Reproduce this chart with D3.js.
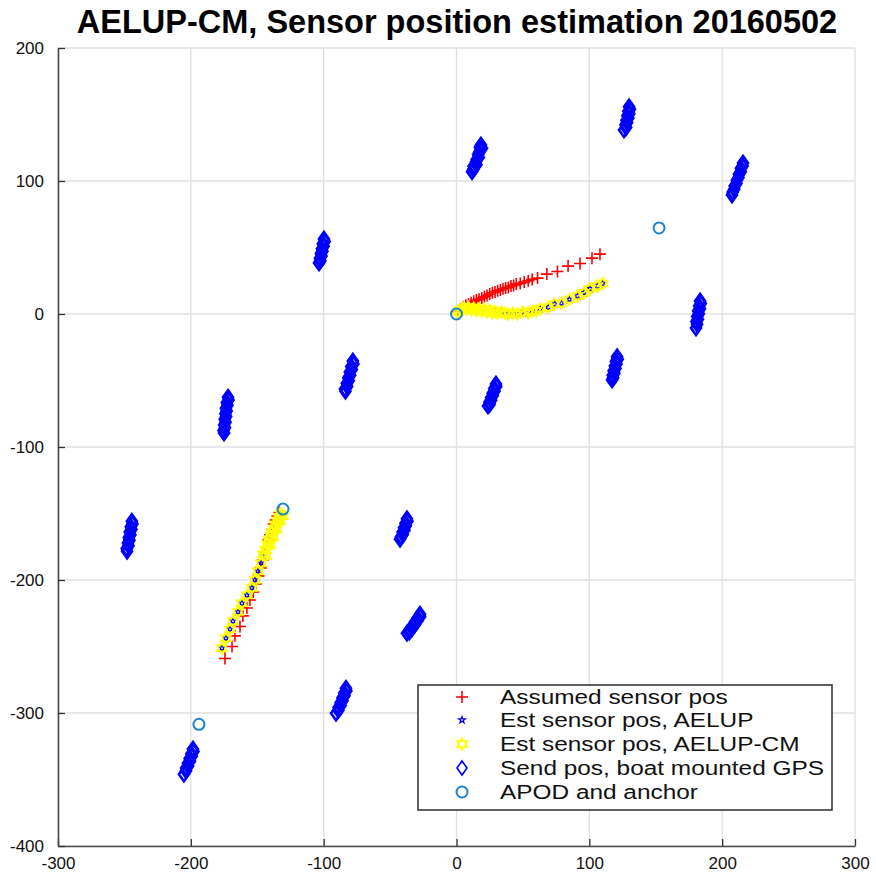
<!DOCTYPE html>
<html><head><meta charset="utf-8">
<script src="https://cdn.jsdelivr.net/npm/d3@7"></script>
<style>body{margin:0;background:#fff} svg{display:block}</style>
</head><body>
<svg id="chart" width="876" height="874"></svg>
<script>
// ---- data ----
const titleText = "AELUP-CM, Sensor position estimation 20160502";
const xTicks = [-300, -200, -100, 0, 100, 200, 300];
const yTicks = [-400, -300, -200, -100, 0, 100, 200];
const legendLabels = [
  "Assumed sensor pos",
  "Est sensor pos, AELUP",
  "Est sensor pos, AELUP-CM",
  "Send pos, boat mounted GPS",
  "APOD and anchor"
];

// Assumed sensor positions (two sensor drops)
const assumedPos = [
  [1,2],[3,4],[5,5.5],[7,6.5],[9,7.5],[11,8.5],[13,9.5],[15,10.5],[17,11],[19,12],[21,13],[23,14],
  [25,15],[27,16],[29,16.5],[31,17.5],[33,18],[35,19],[37,19.5],[39,20],[41,21],[43,21.5],[45,22.5],
  [48,23],[51,24],[54,25],[57,26],[61,27],[68,30],[76,32],[84,36],[93,38],[102,42],[108,45],
  [-133.3,-149.5],[-134.8,-152],[-136.2,-155],[-137.6,-158],[-139,-162],[-140.3,-166],[-141.6,-170],
  [-143,-175],[-144.3,-180],[-145.8,-185],[-147.3,-191],[-149,-197],[-151,-203],[-153,-209],
  [-155.5,-215],[-157.8,-221],[-160.8,-227],[-163,-235],[-166.8,-242],[-169,-250],[-174.3,-259]
];

// Estimated sensor positions, AELUP
const estAelup = [
  [27,1],[29,2],[31,0.5],[34,1.5],[36.5,0.8],[39,0],[42.5,0.8],[46,0],[50,1.5],[54,1],[57,2],[60,2.5],
  [63,4],[69,5],[74,7.5],[79,8],[85,11],[91,13.5],[96,16],[100.5,19],[106,21],[110,23],
  [-144,-177],[-145.7,-180.6],[-147.2,-187.4],[-149.5,-193.4],[-151.7,-200],[-154,-206],[-157.8,-211.4],
  [-161.5,-217.5],[-164.5,-224],[-168.3,-231],[-170.5,-237],[-173.6,-243.8],[-176.6,-251.3]
];

// Estimated sensor positions, AELUP-CM
const estAelupCm = [
  [1,1.5],[3,3],[5,4.5],[7,3.5],[9,5],[11,3],[13,4.5],[15,2.5],[17,4],[19,2],[21,3.5],[23,1.5],
  [25,3],[27,1],[29,2],[31,0.5],[34,1.5],[36.5,0.8],[39,0],[42.5,0.8],[46,0],[50,1.5],[54,1],[57,2],
  [60,2.5],[63,4],[69,5],[74,7.5],[79,8],[85,11],[91,13.5],[96,16],[100.5,19],[106,21],[110,23],
  [-132.5,-150],[-130.5,-152],[-133.5,-152.5],[-135,-155],[-133,-156],[-136.5,-158],[-137.5,-161],
  [-135.5,-162],[-139,-164],[-140,-167],[-138,-168],[-141.5,-170],[-142.5,-173],[-140.5,-174],
  [-144,-177],[-145.7,-180.6],[-143.5,-182],[-147.2,-187.4],[-149.5,-193.4],[-151.7,-200],[-154,-206],
  [-157.8,-211.4],[-161.5,-217.5],[-164.5,-224],[-168.3,-231],[-170.5,-237],[-173.6,-243.8],[-176.6,-251.3]
];

// Send positions from the boat mounted GPS, one group per send station
const gpsSendPos = [
  [[18.4,127.0],[17.6,125.3],[19.2,124.6],[18.1,123.2],[16.9,121.5],[16.3,119.8],[16.8,117.7],[15.2,116.1],[14.6,114.2],[15.0,112.3],[12.8,111.0],[13.5,110.8],[12.6,108.9],[11.7,107.0]],
  [[129.9,155.8],[130.6,154.0],[129.3,152.4],[130.1,150.6],[128.6,149.0],[129.4,147.3],[127.9,145.6],[128.5,143.9],[127.2,142.2],[127.7,140.3],[126.1,138.4]],
  [[215.7,113.6],[215.4,111.3],[214.1,109.5],[214.0,107.0],[212.6,105.0],[212.3,102.6],[211.0,100.6],[210.8,98.2],[209.4,96.3],[209.1,93.8],[207.9,91.8],[207.4,89.5]],
  [[-99.8,56.4],[-99.2,54.5],[-100.6,52.8],[-100.0,50.9],[-101.3,49.1],[-100.9,47.2],[-102.1,45.5],[-101.6,43.6],[-102.8,41.9],[-102.5,40.1],[-103.5,38.4]],
  [[183.4,9.8],[184.0,7.9],[182.6,6.1],[183.3,4.0],[181.9,2.2],[182.5,0.1],[181.2,-1.8],[181.8,-3.9],[180.6,-5.7],[181.1,-7.8],[180.3,-10.5]],
  [[120.9,-32.2],[121.4,-34.0],[120.0,-35.6],[120.5,-37.5],[119.2,-39.1],[119.7,-41.0],[118.3,-42.6],[118.8,-44.5],[117.6,-46.1],[117.9,-47.9],[117.1,-49.7]],
  [[-78.0,-35.4],[-77.6,-37.6],[-79.2,-39.5],[-78.8,-41.8],[-80.3,-43.7],[-80.0,-46.0],[-81.5,-47.9],[-81.1,-50.2],[-82.6,-52.1],[-82.3,-54.5],[-84.0,-56.4],[-83.6,-58.0]],
  [[29.7,-52.7],[29.9,-54.6],[28.4,-56.0],[28.6,-58.0],[27.2,-59.5],[27.3,-61.4],[26.0,-62.9],[26.1,-64.8],[24.8,-66.2],[25.0,-67.8],[23.7,-69.2]],
  [[-172.0,-62.5],[-171.6,-64.6],[-172.9,-66.6],[-172.4,-68.7],[-173.6,-70.8],[-173.0,-72.9],[-174.0,-75.0],[-173.4,-77.1],[-174.5,-79.2],[-173.9,-81.3],[-174.9,-83.4],[-174.3,-85.5],[-175.4,-87.5],[-175.0,-89.5]],
  [[-244.4,-155.8],[-243.9,-157.9],[-245.2,-159.9],[-244.7,-162.0],[-246.0,-164.0],[-245.5,-166.1],[-246.7,-168.1],[-246.2,-170.2],[-247.4,-172.2],[-246.9,-174.3],[-248.3,-176.3],[-248.0,-178.3]],
  [[-37.3,-154.0],[-36.9,-155.9],[-38.4,-157.3],[-38.1,-159.2],[-39.5,-160.7],[-39.2,-162.5],[-40.6,-164.0],[-40.4,-165.8],[-41.8,-167.4],[-42.5,-169.3]],
  [[-27.5,-225.7],[-27.4,-227.7],[-29.3,-228.6],[-29.4,-230.7],[-31.2,-231.6],[-31.4,-233.6],[-33.1,-234.5],[-33.4,-236.5],[-35.1,-237.4],[-35.5,-239.2],[-37.3,-240.0]],
  [[-83.2,-281.4],[-82.9,-283.5],[-84.5,-285.0],[-84.3,-287.1],[-85.9,-288.6],[-85.8,-290.7],[-87.3,-292.2],[-87.2,-294.3],[-88.8,-295.8],[-88.9,-297.9],[-90.7,-300.2]],
  [[-198.4,-327.0],[-198.0,-329.0],[-199.6,-330.6],[-199.3,-332.6],[-200.9,-334.2],[-200.6,-336.2],[-202.2,-337.8],[-202.0,-339.8],[-203.6,-341.4],[-203.6,-343.5],[-205.2,-346.0]]
];

// APOD and anchor positions
const apodAnchor = [[0,0],[-130.6,-146.7],[-193.9,-308.5],[152.5,64.7]];

// ---- layout ----
const svg = d3.select("#chart");
const x = d3.scaleLinear().domain([-300, 300]).range([58, 855]);
const y = d3.scaleLinear().domain([-400, 200]).range([846, 48]);
const FONT = "'Liberation Sans', Arial, Helvetica, sans-serif";

// grid
const grid = svg.append("g");
grid.selectAll("line.gx").data(xTicks).join("line")
  .attr("x1", d => x(d)).attr("x2", d => x(d))
  .attr("y1", y(-400)).attr("y2", y(200))
  .attr("stroke", "#e0e0e0").attr("stroke-width", 1.3);
grid.selectAll("line.gy").data(yTicks).join("line")
  .attr("x1", x(-300)).attr("x2", x(300))
  .attr("y1", d => y(d)).attr("y2", d => y(d))
  .attr("stroke", "#e0e0e0").attr("stroke-width", 1.3);

// axes (ticks pointing inward)
const fmt = d => String(d);
const xAxis = d3.axisBottom(x).tickValues(xTicks).tickFormat(fmt).tickSizeInner(-7).tickSizeOuter(0).tickPadding(14);
const yAxis = d3.axisLeft(y).tickValues(yTicks).tickFormat(fmt).tickSizeInner(-7).tickSizeOuter(0).tickPadding(14);
const gx = svg.append("g").attr("transform", `translate(0,${y(-400)})`).call(xAxis);
const gy = svg.append("g").attr("transform", `translate(${x(-300)},0)`).call(yAxis);
[gx, gy].forEach(g => {
  g.select(".domain").attr("stroke", "#4a4a4a").attr("stroke-width", 1.6);
  g.selectAll(".tick line").attr("stroke", "#333").attr("stroke-width", 1.3);
  g.selectAll(".tick text").attr("font-family", FONT).attr("font-size", 17).attr("fill", "#111");
});
gx.selectAll(".tick text").attr("dy", "0.55em");

// marker shapes
function hexagramPath(r) {
  const pts = d3.range(12).map(i => {
    const a = i * Math.PI / 6 - Math.PI / 2;
    const rr = i % 2 === 0 ? r : r * 0.58;
    return [rr * Math.cos(a), rr * Math.sin(a)];
  });
  return "M" + pts.map(p => p.join(",")).join("L") + "Z";
}
const plusPath = "M-6,0H6M0,-6V6";
const diamondPath = "M0,-7L5,0L0,7L-5,0Z";
const starPath = d3.symbol(d3.symbolStar, 14)();
const hexPath = hexagramPath(5.5);

const marks = svg.append("g");
function drawSeries(data, path, stroke, width) {
  marks.append("g").selectAll("path").data(data).join("path")
    .attr("transform", d => `translate(${x(d[0])},${y(d[1])})`)
    .attr("d", path)
    .attr("fill", "none")
    .attr("stroke", stroke)
    .attr("stroke-width", width);
}
drawSeries(assumedPos, plusPath, "#ff0000", 1.6);
drawSeries(estAelup, starPath, "#0000ff", 1.2);
drawSeries(estAelupCm, hexPath, "#ffff00", 2);
drawSeries(gpsSendPos.flat(), diamondPath, "#0000ff", 2.6);
marks.append("g").selectAll("circle").data(apodAnchor).join("circle")
  .attr("cx", d => x(d[0])).attr("cy", d => y(d[1])).attr("r", 5.5)
  .attr("fill", "none").attr("stroke", "#1f83c9").attr("stroke-width", 2);

// title
svg.append("text")
  .attr("x", 457).attr("y", 33)
  .attr("text-anchor", "middle")
  .attr("font-family", FONT).attr("font-weight", "bold").attr("font-size", 32.5)
  .attr("fill", "#000")
  .text(titleText);

// legend
const lg = svg.append("g");
lg.append("rect").attr("x", 418).attr("y", 685).attr("width", 414).attr("height", 125)
  .attr("fill", "#fff").attr("stroke", "#3a3a3a").attr("stroke-width", 1.6);
const legendRows = [697, 720, 744, 768, 792];
const legendGlyphs = [
  {d: plusPath, stroke: "#ff0000", w: 1.6},
  {d: starPath, stroke: "#0000ff", w: 1.2},
  {d: hexPath, stroke: "#ffff00", w: 2},
  {d: "M0,-7L5,0L0,7L-5,0Z", stroke: "#0000ff", w: 1.6}
];
legendGlyphs.forEach((g, i) => {
  lg.append("path").attr("transform", `translate(462,${legendRows[i]})`)
    .attr("d", g.d).attr("fill", "none").attr("stroke", g.stroke).attr("stroke-width", g.w);
});
lg.append("circle").attr("cx", 462).attr("cy", legendRows[4]).attr("r", 5.5)
  .attr("fill", "none").attr("stroke", "#1f83c9").attr("stroke-width", 2);
const lt = lg.selectAll("text").data(legendLabels).join("text")
  .attr("x", 500).attr("y", (d, i) => legendRows[i] + 7)
  .attr("font-family", FONT).attr("font-size", 20).attr("fill", "#111")
  .text(d => d);
// widen the legend lettering to the box width
const widest = lt.nodes()[3].getComputedTextLength();
const stretch = 324 / widest;
lt.each(function () {
  const len = this.getComputedTextLength();
  d3.select(this).attr("textLength", len * stretch).attr("lengthAdjust", "spacingAndGlyphs");
});
</script>
</body></html>
